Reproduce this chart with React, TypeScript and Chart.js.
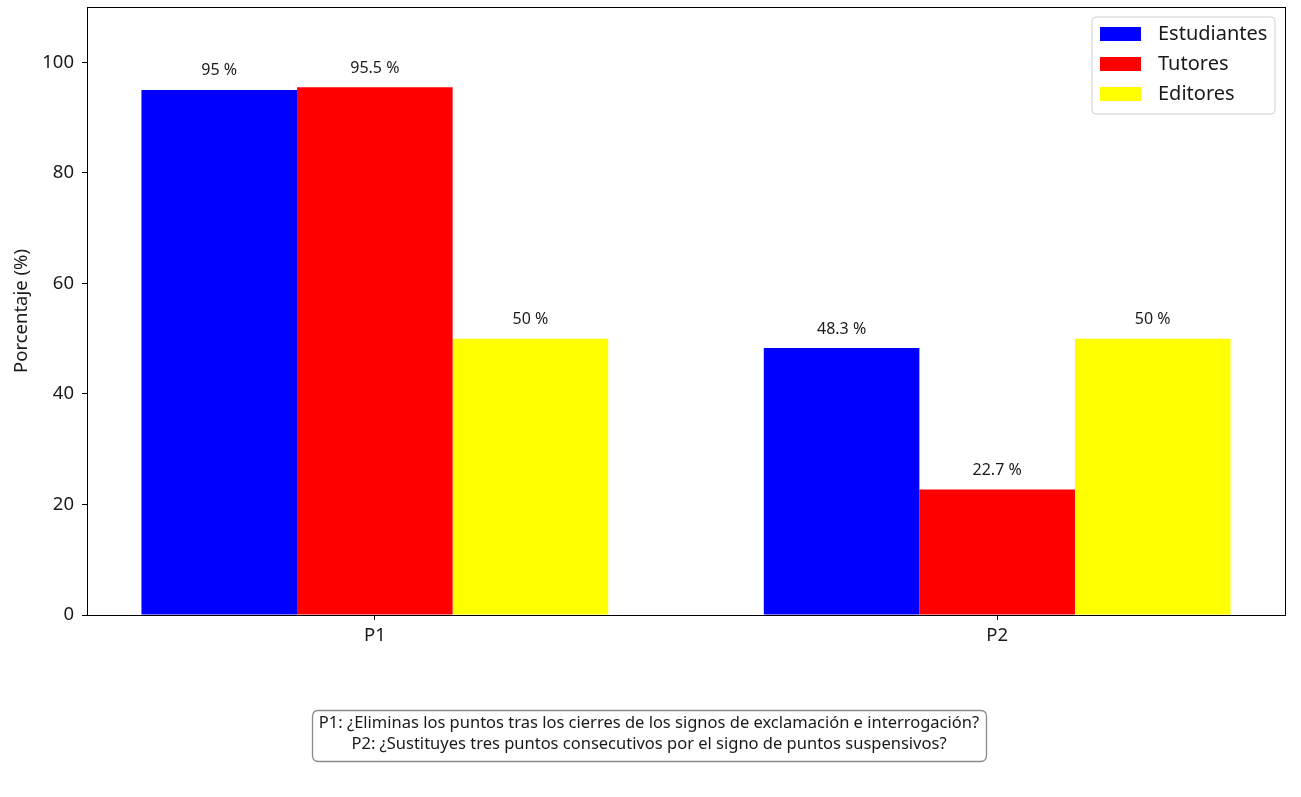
import React, { useEffect, useRef } from "react";
import { Chart, registerables } from "chart.js";

Chart.register(...registerables);

const categories = ["P1", "P2"];
const seriesNames = ["Estudiantes", "Tutores", "Editores"];
const seriesColors = ["#0000ff", "#ff0000", "#ffff00"];
const estudiantes = [95, 48.3];
const tutores = [95.5, 22.7];
const editores = [50, 50];
const yTicks = [0, 20, 40, 60, 80, 100];
const footnoteLines = [
  "P1: ¿Eliminas los puntos tras los cierres de los signos de exclamación e interrogación?",
  "P2: ¿Sustituyes tres puntos consecutivos por el signo de puntos suspensivos?",
];

const FONT = "'Noto Sans', 'DejaVu Sans', sans-serif";
const TEXT = "#1a1a1a";

function roundRect(ctx: CanvasRenderingContext2D, x: number, y: number, w: number, h: number, r: number) {
  ctx.beginPath();
  ctx.moveTo(x + r, y);
  ctx.lineTo(x + w - r, y);
  ctx.quadraticCurveTo(x + w, y, x + w, y + r);
  ctx.lineTo(x + w, y + h - r);
  ctx.quadraticCurveTo(x + w, y + h, x + w - r, y + h);
  ctx.lineTo(x + r, y + h);
  ctx.quadraticCurveTo(x, y + h, x, y + h - r);
  ctx.lineTo(x, y + r);
  ctx.quadraticCurveTo(x, y, x + r, y);
  ctx.closePath();
}

const decorPlugin = {
  id: "decor",
  afterDatasetsDraw(chart: any) {
    const ctx: CanvasRenderingContext2D = chart.ctx;
    const area = chart.chartArea;
    ctx.save();
    // value labels
    ctx.font = `16px ${FONT}`;
    ctx.fillStyle = TEXT;
    ctx.textAlign = "center";
    ctx.textBaseline = "middle";
    chart.data.datasets.forEach((ds: any, di: number) => {
      const meta = chart.getDatasetMeta(di);
      meta.data.forEach((bar: any, i: number) => {
        const v = ds.data[i].y;
        ctx.fillText(`${v} %`, bar.x, bar.y - 19);
      });
    });
    // frame
    ctx.strokeStyle = "#000";
    ctx.lineWidth = 1;
    ctx.strokeRect(Math.round(area.left) + 0.5, Math.round(area.top) + 0.5, Math.round(area.right - area.left), Math.round(area.bottom - area.top));

    // legend
    const lx = area.right - 193, ly = area.top + 10, lw = 183, lh = 97;
    roundRect(ctx, lx, ly, lw, lh, 4);
    ctx.fillStyle = "rgba(255,255,255,0.85)";
    ctx.fill();
    ctx.strokeStyle = "#d0d0d0";
    ctx.lineWidth = 1;
    ctx.stroke();
    ctx.font = `20px ${FONT}`;
    ctx.textAlign = "left";
    ctx.textBaseline = "middle";
    chart.data.datasets.forEach((ds: any, di: number) => {
      const cy = ly + 17 + di * 30;
      ctx.fillStyle = ds.backgroundColor;
      ctx.fillRect(lx + 8, cy - 7, 41, 14);
      ctx.fillStyle = TEXT;
      ctx.fillText(ds.label, lx + 66, cy);
    });

    // footnote box
    const bx = 312, by = 710, bw = 674, bh = 51;
    roundRect(ctx, bx + 0.5, by + 0.5, bw, bh, 6);
    ctx.fillStyle = "#fff";
    ctx.fill();
    ctx.strokeStyle = "#8a8a8a";
    ctx.lineWidth = 1.3;
    ctx.stroke();
    ctx.font = `16.5px ${FONT}`;
    ctx.fillStyle = TEXT;
    ctx.textAlign = "center";
    ctx.textBaseline = "middle";
    footnoteLines.forEach((t, i) => {
      ctx.fillText(t, bx + bw / 2, by + 13 + i * 21);
    });
    ctx.restore();
  },
};

export default function App() {
  const ref = useRef<HTMLCanvasElement | null>(null);
  useEffect(() => {
    if (!ref.current) return;
    const series = [estudiantes, tutores, editores];
    const chart = new Chart(ref.current, {
      type: "bar",
      data: {
        datasets: series.map((vals, si) => ({
          label: seriesNames[si],
          data: vals.map((v, i) => ({ x: i, y: v })),
          backgroundColor: seriesColors[si],
          borderWidth: 0,
          categoryPercentage: 0.75,
          barPercentage: 1,
        })),
      },
      options: {
        animation: false,
        responsive: false,
        devicePixelRatio: 1,
        layout: { padding: { left: 0, right: 16, top: 7, bottom: 142 } },
        plugins: { legend: { display: false }, tooltip: { enabled: false }, title: { display: false } },
        scales: {
          x: {
            type: "linear",
            offset: false,
            min: -0.4625,
            max: 1.4625,
            afterBuildTicks: (s: any) => {
              s.ticks = categories.map((_, i) => ({ value: i }));
            },
            afterFit: (s: any) => {
              s.height = 40;
              s.paddingLeft = 0;
              s.paddingRight = 0;
            },
            ticks: {
              callback: (v: any) => categories[v as number] ?? "",
              font: { family: FONT, size: 18.5 },
              color: TEXT,
              padding: 5,
              maxRotation: 0,
              autoSkip: false,
            },
            grid: { display: true, offset: false, drawOnChartArea: false, drawTicks: true, tickLength: 5, color: "#000" },
            border: { display: false },
          },
          y: {
            min: 0,
            max: 110,
            afterBuildTicks: (s: any) => {
              s.ticks = yTicks.map((v) => ({ value: v }));
            },
            afterFit: (s: any) => {
              s.width = 87;
              s.paddingTop = 0;
              s.paddingBottom = 0;
            },
            ticks: {
              font: { family: FONT, size: 18.5 },
              color: TEXT,
              padding: 8,
            },
            grid: { display: true, drawOnChartArea: false, drawTicks: true, tickLength: 5, color: "#000" },
            border: { display: false },
            title: {
              display: true,
              text: "Porcentaje (%)",
              font: { family: FONT, size: 18.5 },
              color: TEXT,
              padding: { top: 11, bottom: 4 },
            },
          },
        },
      },
      plugins: [decorPlugin],
    });
    return () => chart.destroy();
  }, []);
  return (
    <div style={{ position: "absolute", left: 0, top: 0, width: 1301, height: 797, background: "#fff" }}>
      <canvas ref={ref} width={1301} height={797} style={{ width: 1301, height: 797, display: "block" }} />
    </div>
  );
}
